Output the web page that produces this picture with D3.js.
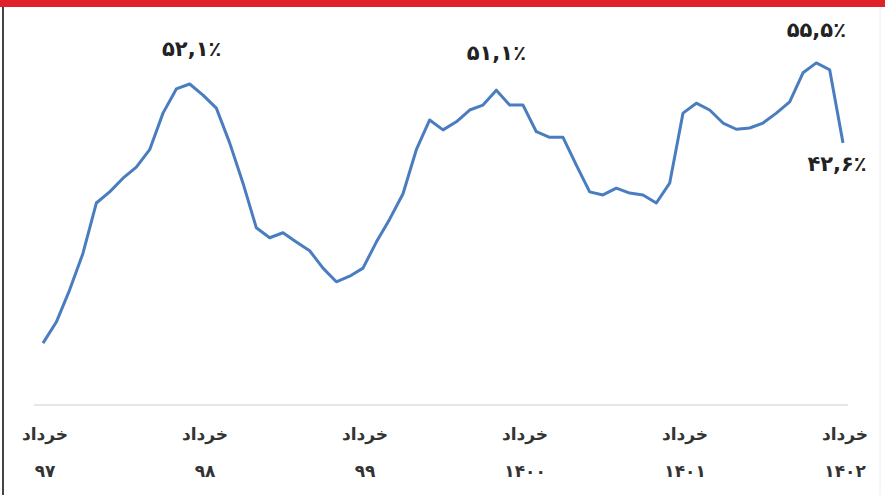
<!DOCTYPE html>
<html>
<head>
<meta charset="utf-8">
<script src="https://cdn.jsdelivr.net/npm/d3@7"></script>
<style>
    body { margin: 0; background: #fff; }
    svg { display: block; }
    text { font-family: "DejaVu Sans", sans-serif; }
</style>
</head>
<body>
<div id="chart"></div>
<script>
// monthly share (%), from خرداد 97 to خرداد 1402
const values = [
    10.3, 13.7, 18.9, 24.8, 32.9, 34.7, 36.9, 38.7, 41.5, 47.4, 51.3, 52.1,
    50.3, 48.2, 42.6, 36.1, 28.9, 27.3, 28.1, 26.6, 25.2, 22.4, 20.2, 21.1,
    22.4, 26.6, 30.3, 34.4, 41.5, 46.3, 44.7, 46.0, 47.9, 48.7, 51.1, 48.7,
    48.7, 44.4, 43.5, 43.5, 39.0, 34.7, 34.2, 35.3, 34.5, 34.2, 32.9, 36.1,
    47.4, 49.0, 47.9, 45.8, 44.8, 45.0, 45.8, 47.4, 49.2, 53.9, 55.5, 54.4,
    42.6
];
const tickMonth = "خرداد";
const tickYears = ["۹۷", "۹۸", "۹۹", "۱۴۰۰", "۱۴۰۱", "۱۴۰۲"];
const tickIndex = [0, 12, 24, 36, 48, 60];
const calloutIndex = [11, 34, 58, 60];
const calloutText = ["۵۲,۱٪", "۵۱,۱٪", "۵۵,۵٪", "۴۲,۶٪"];

const width = 885, height = 495;

const svg = d3.select("#chart")
    .append("svg")
    .attr("width", width)
    .attr("height", height);

// frame
svg.append("rect").attr("x", 0).attr("y", 0).attr("width", width).attr("height", 7).attr("fill", "#e0202a");
svg.append("line").attr("x1", 3).attr("x2", 3).attr("y1", 7).attr("y2", height)
    .attr("stroke", "#444").attr("stroke-width", 2);
svg.append("line").attr("x1", 880).attr("x2", 880).attr("y1", 7).attr("y2", height)
    .attr("stroke", "#eee").attr("stroke-width", 1);

const x = d3.scaleLinear().domain([0, values.length - 1]).range([43, 843]);
const y = d3.scaleLinear().domain([0, 60]).range([407, 35]);

// faint baseline
svg.append("line")
    .attr("x1", 34).attr("x2", 848)
    .attr("y1", y(0) - 2).attr("y2", y(0) - 2)
    .attr("stroke", "#e6e6e6").attr("stroke-width", 2);

const line = d3.line()
    .x((d, i) => x(i))
    .y(d => y(d));

svg.append("path")
    .datum(values)
    .attr("fill", "none")
    .attr("stroke", "#4a7dbf")
    .attr("stroke-width", 3)
    .attr("stroke-linejoin", "round")
    .attr("d", line);

// callouts
const offsets = [[2, -28], [0, -30], [0, -26], [-6, 28]];
svg.append("g")
    .selectAll("text")
    .data(calloutIndex)
    .enter().append("text")
    .attr("x", (d, k) => x(d) + offsets[k][0])
    .attr("y", (d, k) => y(values[d]) + offsets[k][1])
    .attr("text-anchor", "middle")
    .attr("font-size", 21)
    .attr("font-weight", "bold")
    .attr("fill", "#222")
    .text((d, k) => calloutText[k]);

// x tick labels
const ticks = svg.append("g")
    .selectAll("g")
    .data(tickIndex)
    .enter().append("g")
    .attr("transform", d => `translate(${x(d) + 2},0)`);

ticks.append("text")
    .attr("y", 440)
    .attr("text-anchor", "middle")
    .attr("font-size", 17)
    .attr("font-weight", "bold")
    .attr("fill", "#333")
    .text(tickMonth);

ticks.append("text")
    .attr("y", 477)
    .attr("text-anchor", "middle")
    .attr("font-size", 17)
    .attr("font-weight", "bold")
    .attr("fill", "#333")
    .text((d, k) => tickYears[k]);
</script>
</body>
</html>
